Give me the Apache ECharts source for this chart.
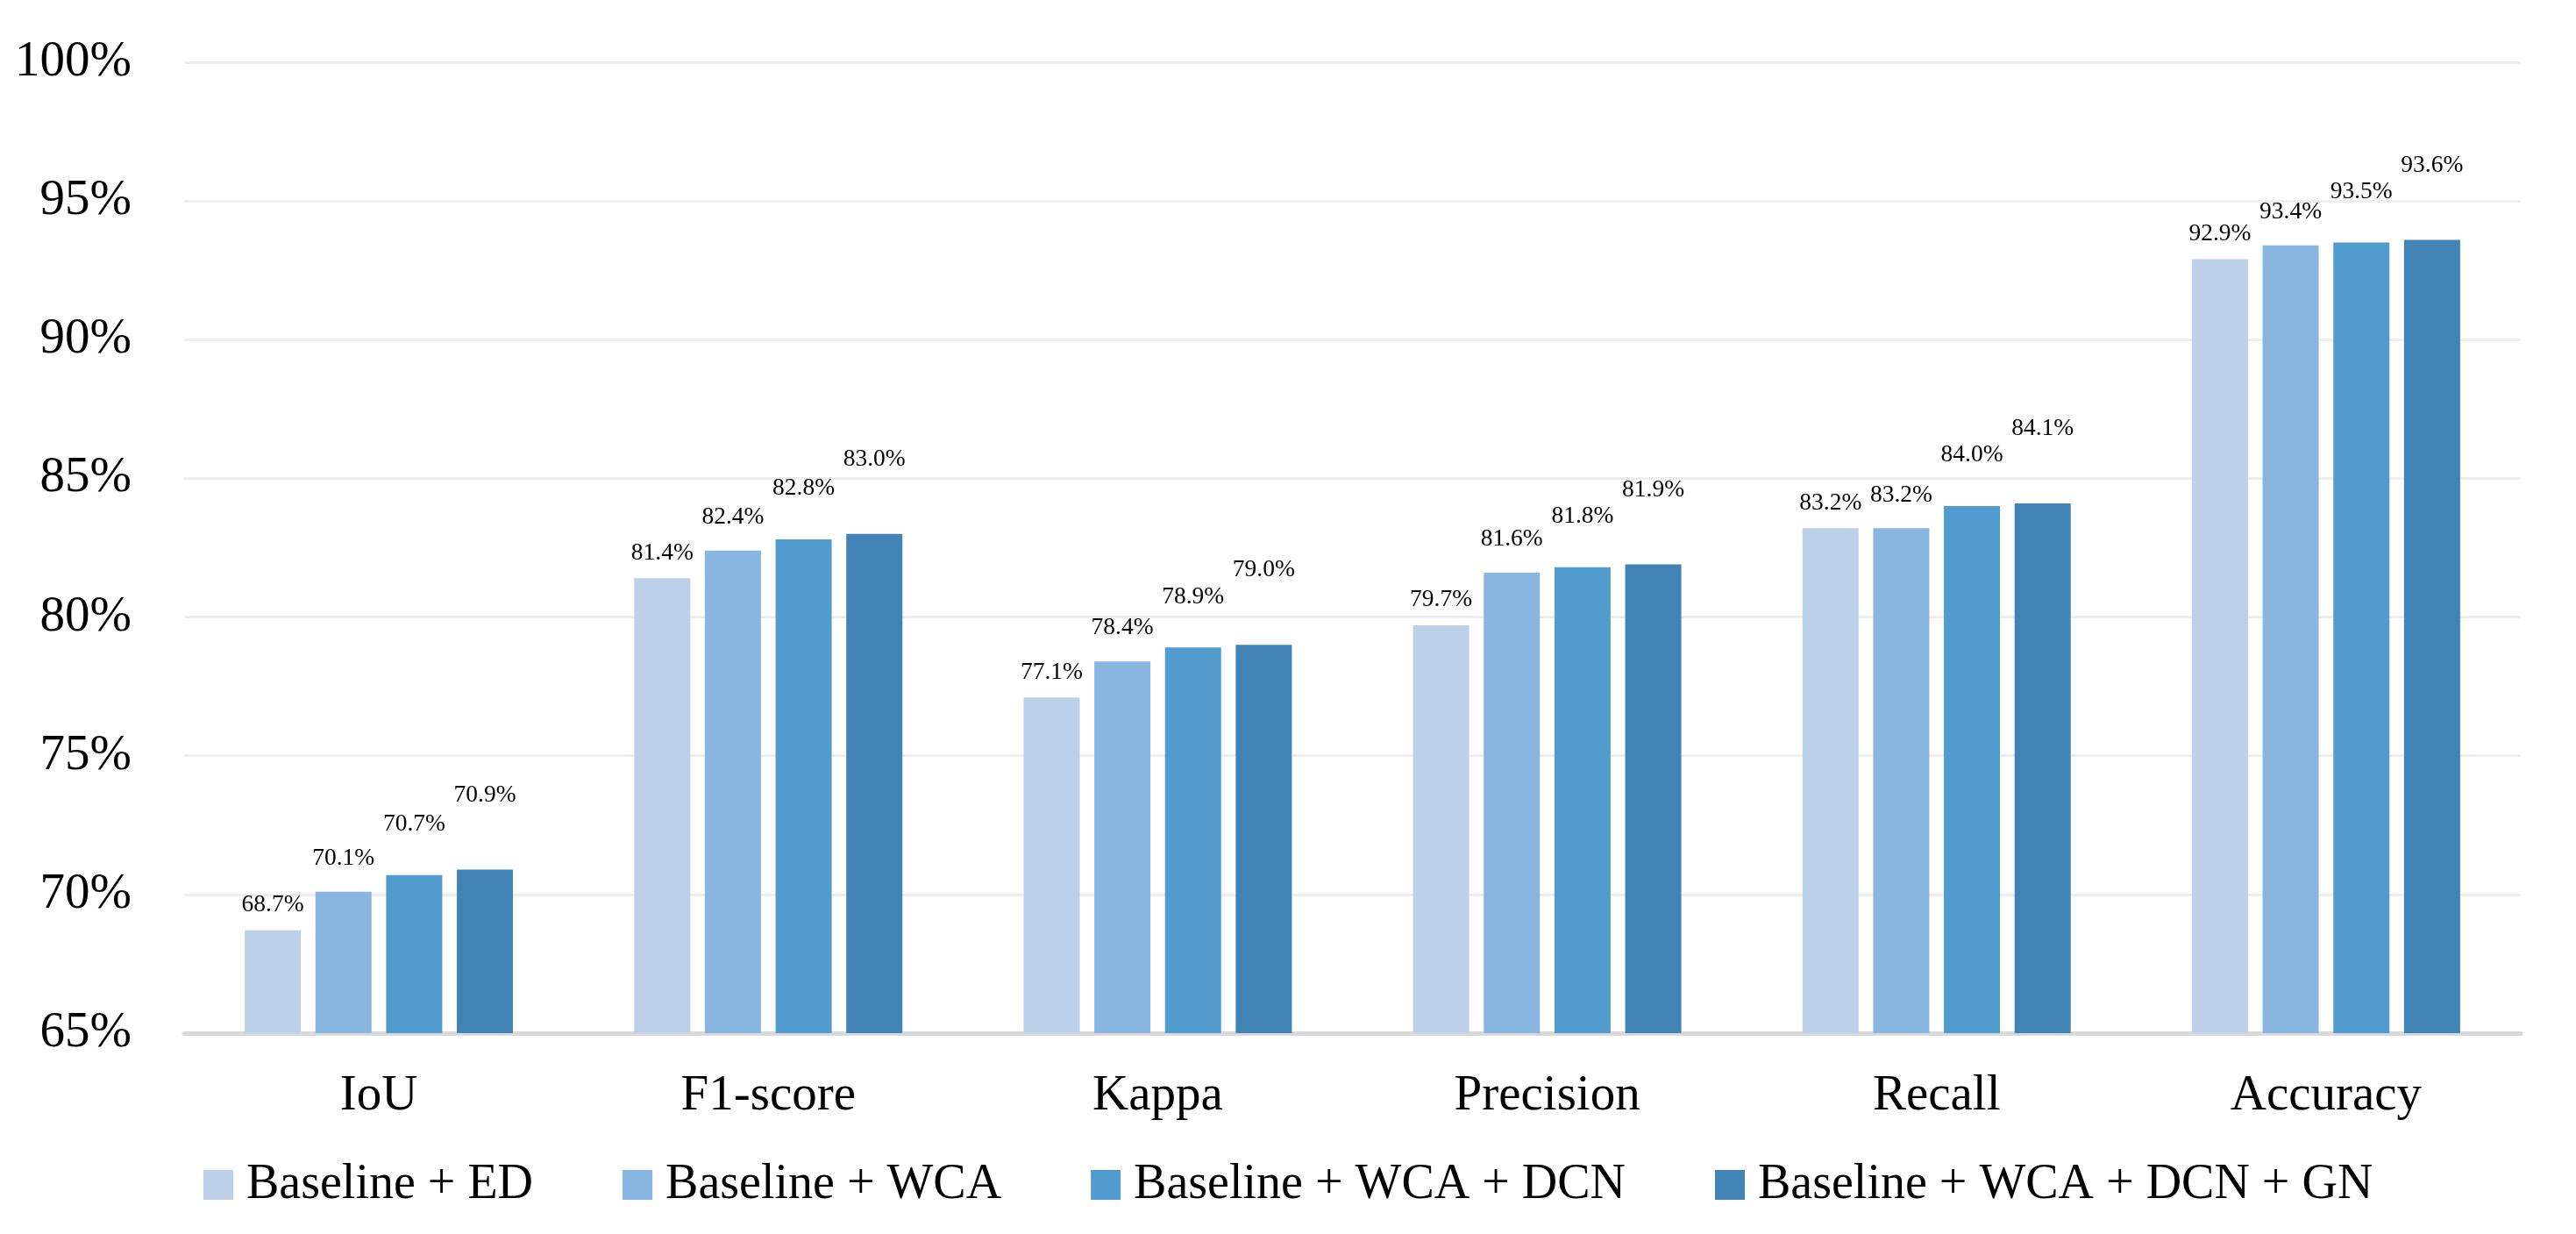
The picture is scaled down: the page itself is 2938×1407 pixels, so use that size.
<!DOCTYPE html>
<html>
<head>
<meta charset="utf-8">
<script src="https://cdn.jsdelivr.net/npm/echarts@6/dist/echarts.min.js"></script>
<style>
  html, body { margin: 0; padding: 0; background: #ffffff; }
  #chart { width: 2938px; height: 1407px; }
</style>
</head>
<body>
<div id="chart"></div>
<script>
const categories = ['IoU', 'F1-score', 'Kappa', 'Precision', 'Recall', 'Accuracy'];
const seriesNames = ['Baseline + ED', 'Baseline + WCA', 'Baseline + WCA + DCN', 'Baseline + WCA + DCN + GN'];
const baselineED = [68.7, 81.4, 77.1, 79.7, 83.2, 92.9];
const baselineWCA = [70.1, 82.4, 78.4, 81.6, 83.2, 93.4];
const baselineWCADCN = [70.7, 82.8, 78.9, 81.8, 84.0, 93.5];
const baselineWCADCNGN = [70.9, 83.0, 79.0, 81.9, 84.1, 93.6];
const yTicks = [65, 70, 75, 80, 85, 90, 95, 100];

const seriesValues = [baselineED, baselineWCA, baselineWCADCN, baselineWCADCNGN];
const colors = ['#BDD0EA', '#88B6E1', '#519BCF', '#4283B5'];
const labelDistances = [15, 24, 44, 71];
const FONT = "'Liberation Serif', 'Times New Roman', serif";

const chart = echarts.init(document.getElementById('chart'), null, { renderer: 'canvas' });

chart.setOption({
  backgroundColor: '#ffffff',
  animation: false,
  color: colors,
  grid: { left: 210, right: 63, top: 71, bottom: 229, containLabel: false },
  legend: {
    data: seriesNames,
    left: 227,
    top: 1318,
    itemWidth: 34,
    itemHeight: 34,
    itemGap: 102,
    icon: 'rect',
    textStyle: { fontFamily: FONT, fontSize: 56, color: '#000000', padding: [0, 0, 0, 10] }
  },
  xAxis: {
    type: 'category',
    data: categories,
    axisTick: { show: false },
    axisLine: { show: true, lineStyle: { color: '#D9D9D9', width: 5 } },
    axisLabel: { fontFamily: FONT, fontSize: 57, color: '#000000', margin: 44 },
    splitLine: { show: false }
  },
  yAxis: {
    type: 'value',
    min: yTicks[0],
    max: yTicks[yTicks.length - 1],
    interval: 5,
    axisLine: { show: false },
    axisTick: { show: false },
    axisLabel: { fontFamily: FONT, fontSize: 57, color: '#000000', margin: 60, formatter: '{value}%' },
    splitLine: { show: true, lineStyle: { color: '#EEEEEE', width: 3 } }
  },
  series: seriesValues.map((vals, i) => ({
    name: seriesNames[i],
    type: 'bar',
    data: vals,
    barWidth: 64,
    barGap: '26%',
    itemStyle: { color: colors[i] },
    label: {
      show: true,
      position: 'top',
      distance: labelDistances[i],
      fontFamily: FONT,
      fontSize: 27.5,
      color: '#000000',
      formatter: p => p.value.toFixed(1) + '%'
    }
  }))
});
</script>
</body>
</html>
